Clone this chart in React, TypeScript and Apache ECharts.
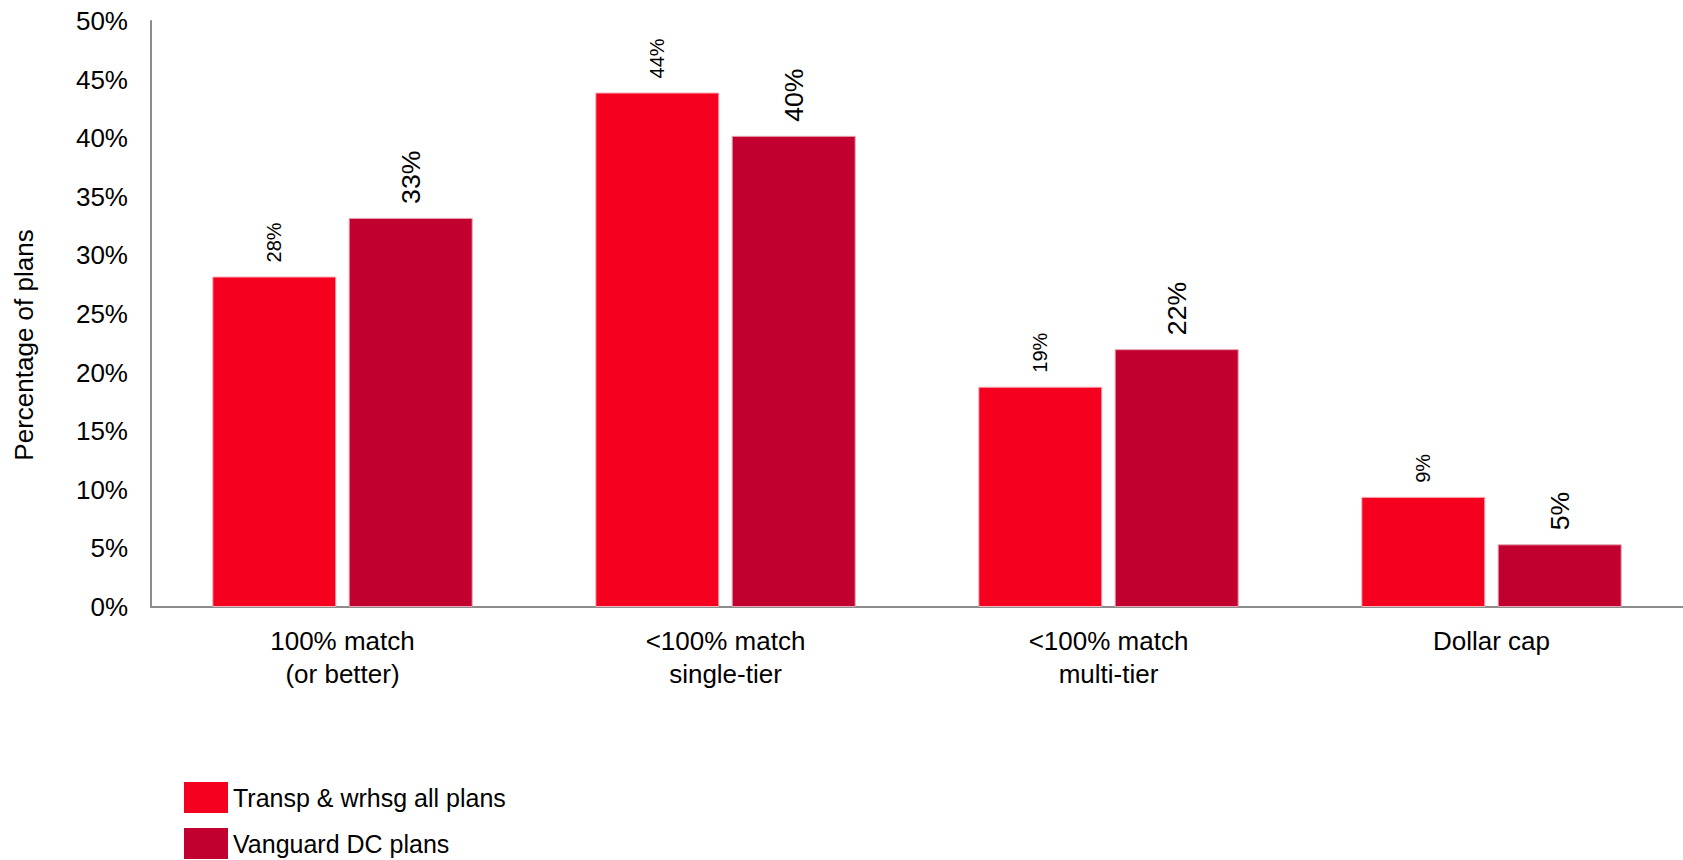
import React, { useEffect, useRef } from "react";
import * as echarts from "echarts";

const categories = ["100% match\n(or better)", "<100% match\nsingle-tier", "<100% match\nmulti-tier", "Dollar cap"];
const transpValues = [28.2, 43.9, 18.8, 9.4];
const vanguardValues = [33.2, 40.2, 22.0, 5.35];
const seriesNames = ["Transp & wrhsg all plans", "Vanguard DC plans"];
const yTicks = { min: 0, max: 50, interval: 5 };

const FONT = "'Liberation Sans', Arial, sans-serif";

const legendBase = {
  left: 184,
  itemWidth: 44,
  itemHeight: 31,
  icon: "rect",
  padding: 0,
  itemStyle: { borderWidth: 0 },
  textStyle: { fontSize: 25, color: "#000", fontFamily: FONT },
};

export default function App() {
  const ref = useRef<HTMLDivElement>(null);
  useEffect(() => {
    if (!ref.current) return;
    const chart = echarts.init(ref.current, undefined, { renderer: "svg" });
    chart.setOption({
      animation: false,
      backgroundColor: "#ffffff",
      textStyle: { fontFamily: FONT },
      grid: { left: 151, top: 21, width: 1546, height: 586, containLabel: false },
      legend: [
        { ...legendBase, top: 782, data: [seriesNames[0]] },
        { ...legendBase, top: 828, data: [seriesNames[1]] },
      ],
      xAxis: {
        type: "category",
        data: categories,
        axisLine: { lineStyle: { color: "#8c8c8c", width: 2 } },
        axisTick: { show: false },
        axisLabel: { fontSize: 26, color: "#000", lineHeight: 33, margin: 17, fontFamily: FONT, interval: 0 },
      },
      yAxis: {
        type: "value",
        min: yTicks.min,
        max: yTicks.max,
        interval: yTicks.interval,
        axisLine: { show: true, lineStyle: { color: "#8c8c8c", width: 2 } },
        axisTick: { show: false },
        splitLine: { show: false },
        axisLabel: { fontSize: 26, color: "#000", margin: 23, formatter: "{value}%", fontFamily: FONT },
      },
      graphic: [
        {
          type: "text",
          x: 24,
          y: 345,
          rotation: Math.PI / 2,
          style: {
            text: "Percentage of plans",
            fontSize: 26,
            fontFamily: FONT,
            fill: "#000",
            align: "center",
            verticalAlign: "middle",
          },
        },
      ],
      series: [
        {
          name: seriesNames[0],
          type: "bar",
          data: transpValues,
          barWidth: 124,
          barGap: "10%",
          itemStyle: { color: "#F5001F", borderColor: "#f7b3bd", borderWidth: 1 },
          label: {
            show: true,
            position: "top",
            rotate: 90,
            align: "left",
            verticalAlign: "middle",
            distance: 14,
            fontSize: 20,
            color: "#000",
            fontFamily: FONT,
            formatter: (p: any) => Math.round(p.value) + "%",
          },
        },
        {
          name: seriesNames[1],
          type: "bar",
          data: vanguardValues,
          barWidth: 124,
          barGap: "10%",
          itemStyle: { color: "#C2002F", borderColor: "#e7a3b3", borderWidth: 1 },
          label: {
            show: true,
            position: "top",
            rotate: 90,
            align: "left",
            verticalAlign: "middle",
            distance: 14,
            fontSize: 26.67,
            color: "#000",
            fontFamily: FONT,
            formatter: (p: any) => Math.round(p.value) + "%",
          },
        },
      ],
    });
    return () => chart.dispose();
  }, []);
  return (
    <div
      ref={ref}
      style={{ position: "fixed", left: 0, top: 0, width: 1683, height: 860, background: "#fff" }}
    />
  );
}
